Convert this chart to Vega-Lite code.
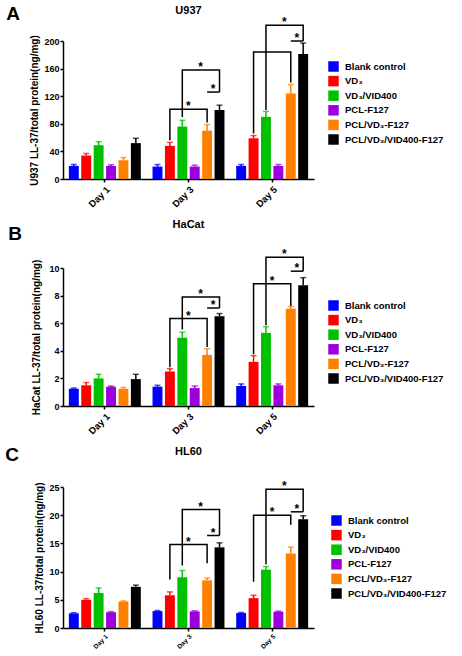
{
  "$schema": "https://vega.github.io/schema/vega-lite/v6.json",
  "padding": {"left": 5, "top": 5, "right": 5, "bottom": 5},
  "background": "white",
  "config": {
    "font": "Liberation Sans",
    "view": {"stroke": null},
    "axis": {"domainColor": "black", "domainWidth": 1.5, "tickColor": "black", "tickWidth": 1.5, "tickSize": 3, "labelPadding": 1, "labelOverlap": false, "labelColor": "black", "labelFontWeight": "bold", "titleFontWeight": "bold", "titleColor": "black", "grid": false, "labelFont": "Liberation Sans", "titleFont": "Liberation Sans"},
    "axisY": {"labelOverlap": false, "labelSeparation": 0},
    "axisQuantitative": {"labelOverlap": false},
    "legend": {"orient": "none", "legendX": 265, "legendY": 20, "title": null, "symbolType": "square", "symbolSize": 110, "symbolStrokeWidth": 0, "symbolOpacity": 1, "labelFontSize": 9.5, "labelFontWeight": "bold", "labelColor": "black", "labelFont": "Liberation Sans", "rowPadding": 3.6, "labelOffset": 6},
    "title": {"font": "Liberation Sans", "fontWeight": "bold", "color": "black"}
  },
  "datasets": {
    "a": [
      {"day": "Day 1", "grp": "Blank control", "mean": 19, "hi": 21},
      {"day": "Day 1", "grp": "VD₃", "mean": 34, "hi": 37},
      {"day": "Day 1", "grp": "VD₃/VID400", "mean": 49, "hi": 54},
      {"day": "Day 1", "grp": "PCL-F127", "mean": 19, "hi": 20.5},
      {"day": "Day 1", "grp": "PCL/VD₃-F127", "mean": 27, "hi": 31},
      {"day": "Day 1", "grp": "PCL/VD₃/VID400-F127", "mean": 52, "hi": 59},
      {"day": "Day 3", "grp": "Blank control", "mean": 18, "hi": 21},
      {"day": "Day 3", "grp": "VD₃", "mean": 48, "hi": 53},
      {"day": "Day 3", "grp": "VD₃/VID400", "mean": 76, "hi": 85},
      {"day": "Day 3", "grp": "PCL-F127", "mean": 18, "hi": 20},
      {"day": "Day 3", "grp": "PCL/VD₃-F127", "mean": 70, "hi": 79},
      {"day": "Day 3", "grp": "PCL/VD₃/VID400-F127", "mean": 100, "hi": 107},
      {"day": "Day 5", "grp": "Blank control", "mean": 19, "hi": 21},
      {"day": "Day 5", "grp": "VD₃", "mean": 59, "hi": 63},
      {"day": "Day 5", "grp": "VD₃/VID400", "mean": 90, "hi": 98},
      {"day": "Day 5", "grp": "PCL-F127", "mean": 19, "hi": 21},
      {"day": "Day 5", "grp": "PCL/VD₃-F127", "mean": 124, "hi": 137},
      {"day": "Day 5", "grp": "PCL/VD₃/VID400-F127", "mean": 181, "hi": 197}
    ],
    "ab": [
      {"br": 1, "o": 1, "day": "Day 3", "grp": "VD₃", "y": 56},
      {"br": 1, "o": 2, "day": "Day 3", "grp": "VD₃", "y": 101},
      {"br": 1, "o": 3, "day": "Day 3", "grp": "PCL/VD₃-F127", "y": 101},
      {"br": 1, "o": 4, "day": "Day 3", "grp": "PCL/VD₃-F127", "y": 82},
      {"br": 2, "o": 1, "day": "Day 3", "grp": "VD₃/VID400", "y": 90},
      {"br": 2, "o": 2, "day": "Day 3", "grp": "VD₃/VID400", "y": 158},
      {"br": 2, "o": 3, "day": "Day 3", "grp": "PCL/VD₃/VID400-F127", "y": 158},
      {"br": 2, "o": 4, "day": "Day 3", "grp": "PCL/VD₃/VID400-F127", "y": 126},
      {"br": 3, "o": 1, "day": "Day 3", "grp": "PCL/VD₃-F127", "y": 126},
      {"br": 3, "o": 2, "day": "Day 3", "grp": "PCL/VD₃/VID400-F127", "y": 126},
      {"br": 4, "o": 1, "day": "Day 5", "grp": "VD₃", "y": 66},
      {"br": 4, "o": 2, "day": "Day 5", "grp": "VD₃", "y": 184},
      {"br": 4, "o": 3, "day": "Day 5", "grp": "PCL/VD₃-F127", "y": 184},
      {"br": 4, "o": 4, "day": "Day 5", "grp": "PCL/VD₃-F127", "y": 140},
      {"br": 5, "o": 1, "day": "Day 5", "grp": "VD₃/VID400", "y": 100},
      {"br": 5, "o": 2, "day": "Day 5", "grp": "VD₃/VID400", "y": 223},
      {"br": 5, "o": 3, "day": "Day 5", "grp": "PCL/VD₃/VID400-F127", "y": 223},
      {"br": 5, "o": 4, "day": "Day 5", "grp": "PCL/VD₃/VID400-F127", "y": 200},
      {"br": 6, "o": 1, "day": "Day 5", "grp": "PCL/VD₃-F127", "y": 200},
      {"br": 6, "o": 2, "day": "Day 5", "grp": "PCL/VD₃/VID400-F127", "y": 200}
    ],
    "as": [
      {"day": "Day 3", "grp": "VD₃/VID400", "y": 101},
      {"day": "Day 3", "grp": "PCL-F127", "y": 158},
      {"day": "Day 3", "grp": "PCL/VD₃-F127", "y": 126},
      {"day": "Day 5", "grp": "PCL-F127", "y": 223},
      {"day": "Day 5", "grp": "PCL/VD₃-F127", "y": 200}
    ],
    "b": [
      {"day": "Day 1", "grp": "Blank control", "mean": 1.25, "hi": 1.3},
      {"day": "Day 1", "grp": "VD₃", "mean": 1.5, "hi": 1.7},
      {"day": "Day 1", "grp": "VD₃/VID400", "mean": 2.0, "hi": 2.3},
      {"day": "Day 1", "grp": "PCL-F127", "mean": 1.4, "hi": 1.45},
      {"day": "Day 1", "grp": "PCL/VD₃-F127", "mean": 1.25, "hi": 1.35},
      {"day": "Day 1", "grp": "PCL/VD₃/VID400-F127", "mean": 1.95, "hi": 2.3},
      {"day": "Day 3", "grp": "Blank control", "mean": 1.4, "hi": 1.5},
      {"day": "Day 3", "grp": "VD₃", "mean": 2.5, "hi": 2.7},
      {"day": "Day 3", "grp": "VD₃/VID400", "mean": 4.95, "hi": 5.35},
      {"day": "Day 3", "grp": "PCL-F127", "mean": 1.3, "hi": 1.45},
      {"day": "Day 3", "grp": "PCL/VD₃-F127", "mean": 3.7, "hi": 4.15},
      {"day": "Day 3", "grp": "PCL/VD₃/VID400-F127", "mean": 6.5, "hi": 6.7},
      {"day": "Day 5", "grp": "Blank control", "mean": 1.45, "hi": 1.6},
      {"day": "Day 5", "grp": "VD₃", "mean": 3.2, "hi": 3.65},
      {"day": "Day 5", "grp": "VD₃/VID400", "mean": 5.3, "hi": 5.75},
      {"day": "Day 5", "grp": "PCL-F127", "mean": 1.5, "hi": 1.6},
      {"day": "Day 5", "grp": "PCL/VD₃-F127", "mean": 7.05, "hi": 7.2},
      {"day": "Day 5", "grp": "PCL/VD₃/VID400-F127", "mean": 8.75, "hi": 9.3}
    ],
    "bb": [
      {"br": 1, "o": 1, "day": "Day 3", "grp": "VD₃", "y": 2.8},
      {"br": 1, "o": 2, "day": "Day 3", "grp": "VD₃", "y": 6.34},
      {"br": 1, "o": 3, "day": "Day 3", "grp": "PCL/VD₃-F127", "y": 6.34},
      {"br": 1, "o": 4, "day": "Day 3", "grp": "PCL/VD₃-F127", "y": 4.27},
      {"br": 2, "o": 1, "day": "Day 3", "grp": "VD₃/VID400", "y": 5.55},
      {"br": 2, "o": 2, "day": "Day 3", "grp": "VD₃/VID400", "y": 7.9},
      {"br": 2, "o": 3, "day": "Day 3", "grp": "PCL/VD₃/VID400-F127", "y": 7.9},
      {"br": 2, "o": 4, "day": "Day 3", "grp": "PCL/VD₃/VID400-F127", "y": 7.1},
      {"br": 3, "o": 1, "day": "Day 3", "grp": "PCL/VD₃-F127", "y": 7.1},
      {"br": 3, "o": 2, "day": "Day 3", "grp": "PCL/VD₃/VID400-F127", "y": 7.1},
      {"br": 4, "o": 1, "day": "Day 5", "grp": "VD₃", "y": 3.75},
      {"br": 4, "o": 2, "day": "Day 5", "grp": "VD₃", "y": 8.85},
      {"br": 4, "o": 3, "day": "Day 5", "grp": "PCL/VD₃-F127", "y": 8.85},
      {"br": 4, "o": 4, "day": "Day 5", "grp": "PCL/VD₃-F127", "y": 7.25},
      {"br": 5, "o": 1, "day": "Day 5", "grp": "VD₃/VID400", "y": 5.85},
      {"br": 5, "o": 2, "day": "Day 5", "grp": "VD₃/VID400", "y": 10.77},
      {"br": 5, "o": 3, "day": "Day 5", "grp": "PCL/VD₃/VID400-F127", "y": 10.77},
      {"br": 5, "o": 4, "day": "Day 5", "grp": "PCL/VD₃/VID400-F127", "y": 9.77},
      {"br": 6, "o": 1, "day": "Day 5", "grp": "PCL/VD₃-F127", "y": 9.77},
      {"br": 6, "o": 2, "day": "Day 5", "grp": "PCL/VD₃/VID400-F127", "y": 9.77}
    ],
    "bs": [
      {"day": "Day 3", "grp": "VD₃/VID400", "y": 6.34},
      {"day": "Day 3", "grp": "PCL-F127", "y": 7.9},
      {"day": "Day 3", "grp": "PCL/VD₃-F127", "y": 7.1},
      {"day": "Day 5", "grp": "VD₃/VID400", "y": 8.85},
      {"day": "Day 5", "grp": "PCL-F127", "y": 10.77},
      {"day": "Day 5", "grp": "PCL/VD₃-F127", "y": 9.77}
    ],
    "c": [
      {"day": "Day 1", "grp": "Blank control", "mean": 2.6, "hi": 2.7},
      {"day": "Day 1", "grp": "VD₃", "mean": 5.0, "hi": 5.2},
      {"day": "Day 1", "grp": "VD₃/VID400", "mean": 6.2, "hi": 7.1},
      {"day": "Day 1", "grp": "PCL-F127", "mean": 2.8, "hi": 2.9},
      {"day": "Day 1", "grp": "PCL/VD₃-F127", "mean": 4.7, "hi": 4.8},
      {"day": "Day 1", "grp": "PCL/VD₃/VID400-F127", "mean": 7.3, "hi": 7.6},
      {"day": "Day 3", "grp": "Blank control", "mean": 3.0, "hi": 3.1},
      {"day": "Day 3", "grp": "VD₃", "mean": 5.8, "hi": 6.4},
      {"day": "Day 3", "grp": "VD₃/VID400", "mean": 9.0, "hi": 10.2},
      {"day": "Day 3", "grp": "PCL-F127", "mean": 2.95, "hi": 3.05},
      {"day": "Day 3", "grp": "PCL/VD₃-F127", "mean": 8.45, "hi": 8.85},
      {"day": "Day 3", "grp": "PCL/VD₃/VID400-F127", "mean": 14.3, "hi": 15.1},
      {"day": "Day 5", "grp": "Blank control", "mean": 2.65, "hi": 2.75},
      {"day": "Day 5", "grp": "VD₃", "mean": 5.3, "hi": 5.8},
      {"day": "Day 5", "grp": "VD₃/VID400", "mean": 10.35, "hi": 10.9},
      {"day": "Day 5", "grp": "PCL-F127", "mean": 2.9, "hi": 3.0},
      {"day": "Day 5", "grp": "PCL/VD₃-F127", "mean": 13.2, "hi": 14.35},
      {"day": "Day 5", "grp": "PCL/VD₃/VID400-F127", "mean": 19.3, "hi": 19.9}
    ],
    "cb": [
      {"br": 1, "o": 1, "day": "Day 3", "grp": "VD₃", "y": 8.6},
      {"br": 1, "o": 2, "day": "Day 3", "grp": "VD₃", "y": 14.8},
      {"br": 1, "o": 3, "day": "Day 3", "grp": "PCL/VD₃-F127", "y": 14.8},
      {"br": 1, "o": 4, "day": "Day 3", "grp": "PCL/VD₃-F127", "y": 11.5},
      {"br": 2, "o": 1, "day": "Day 3", "grp": "VD₃/VID400", "y": 11.1},
      {"br": 2, "o": 2, "day": "Day 3", "grp": "VD₃/VID400", "y": 21.0},
      {"br": 2, "o": 3, "day": "Day 3", "grp": "PCL/VD₃/VID400-F127", "y": 21.0},
      {"br": 2, "o": 4, "day": "Day 3", "grp": "PCL/VD₃/VID400-F127", "y": 16.4},
      {"br": 3, "o": 1, "day": "Day 3", "grp": "PCL/VD₃-F127", "y": 16.4},
      {"br": 3, "o": 2, "day": "Day 3", "grp": "PCL/VD₃/VID400-F127", "y": 16.4},
      {"br": 4, "o": 1, "day": "Day 5", "grp": "VD₃", "y": 8.2},
      {"br": 4, "o": 2, "day": "Day 5", "grp": "VD₃", "y": 20.0},
      {"br": 4, "o": 3, "day": "Day 5", "grp": "PCL/VD₃-F127", "y": 20.0},
      {"br": 4, "o": 4, "day": "Day 5", "grp": "PCL/VD₃-F127", "y": 18.3},
      {"br": 5, "o": 1, "day": "Day 5", "grp": "VD₃/VID400", "y": 11.3},
      {"br": 5, "o": 2, "day": "Day 5", "grp": "VD₃/VID400", "y": 24.6},
      {"br": 5, "o": 3, "day": "Day 5", "grp": "PCL/VD₃/VID400-F127", "y": 24.6},
      {"br": 5, "o": 4, "day": "Day 5", "grp": "PCL/VD₃/VID400-F127", "y": 20.6},
      {"br": 6, "o": 1, "day": "Day 5", "grp": "PCL/VD₃-F127", "y": 20.6},
      {"br": 6, "o": 2, "day": "Day 5", "grp": "PCL/VD₃/VID400-F127", "y": 20.6}
    ],
    "cs": [
      {"day": "Day 3", "grp": "VD₃/VID400", "y": 14.8},
      {"day": "Day 3", "grp": "PCL-F127", "y": 21.0},
      {"day": "Day 3", "grp": "PCL/VD₃-F127", "y": 16.4},
      {"day": "Day 5", "grp": "VD₃/VID400", "y": 20.0},
      {"day": "Day 5", "grp": "PCL-F127", "y": 24.6},
      {"day": "Day 5", "grp": "PCL/VD₃-F127", "y": 20.6}
    ]
  },
  "spacing": 10,
  "align": "none",
  "resolve": {"scale": {"x": "independent", "y": "independent", "color": "independent", "xOffset": "independent"}, "legend": {"color": "independent"}},
  "vconcat": [
    {
      "title": {"text": "A", "orient": "left", "anchor": "end", "angle": 0, "frame": "bounds", "fontSize": 19, "offset": 10, "baseline": "top", "align": "left"},
      "vconcat": [{
        "title": {"text": "U937", "fontSize": 11, "offset": 0},
        "width": 251, "height": 138,
        "layer": [
          {"data": {"name": "a"}, "mark": {"type": "bar"},
           "encoding": {
             "x": {"field": "day", "type": "nominal", "scale": {"domain": ["Day 1", "Day 3", "Day 5"], "paddingInner": 0.14, "paddingOuter": 0.07}, "axis": {"title": null, "labelAngle": -45, "labelFontSize": 9.5, "labelPadding": 2}},
             "xOffset": {"field": "grp", "type": "nominal", "scale": {"domain": ["Blank control", "VD₃", "VD₃/VID400", "PCL-F127", "PCL/VD₃-F127", "PCL/VD₃/VID400-F127"], "paddingInner": 0.2}},
             "y": {"field": "mean", "type": "quantitative", "scale": {"domain": [0, 200], "nice": false}, "axis": {"values": [0, 40, 80, 120, 160, 200], "labelOverlap": false, "title": "U937 LL-37/total protein(ng/mg)", "titleFontSize": 10, "labelFontSize": 9, "titlePadding": 4}},
             "color": {"field": "grp", "type": "nominal", "scale": {"domain": ["Blank control", "VD₃", "VD₃/VID400", "PCL-F127", "PCL/VD₃-F127", "PCL/VD₃/VID400-F127"], "range": ["#0000FF", "#FF0000", "#00C000", "#9B00DC", "#FF8000", "#000000"]}, "legend": {"legendY": 20}}
           }},
          {"data": {"name": "a"}, "mark": {"type": "rule", "strokeWidth": 1.5},
           "encoding": {"x": {"field": "day", "type": "nominal"}, "xOffset": {"field": "grp", "type": "nominal"}, "y": {"field": "mean", "type": "quantitative", "axis": {"values": [0, 40, 80, 120, 160, 200], "labelOverlap": false}}, "y2": {"field": "hi"}, "color": {"field": "grp", "type": "nominal"}}},
          {"data": {"name": "a"}, "mark": {"type": "tick", "thickness": 1.5, "size": 6},
           "encoding": {"x": {"field": "day", "type": "nominal"}, "xOffset": {"field": "grp", "type": "nominal"}, "y": {"field": "hi", "type": "quantitative", "axis": {"values": [0, 40, 80, 120, 160, 200], "labelOverlap": false}}, "color": {"field": "grp", "type": "nominal"}}},
          {"data": {"name": "ab"}, "mark": {"type": "line", "color": "black", "strokeWidth": 1.5, "clip": false, "strokeJoin": "miter"},
           "encoding": {"x": {"field": "day", "type": "nominal"}, "xOffset": {"field": "grp", "type": "nominal"}, "y": {"field": "y", "type": "quantitative", "axis": {"values": [0, 40, 80, 120, 160, 200], "labelOverlap": false}}, "detail": {"field": "br", "type": "nominal"}, "order": {"field": "o", "type": "quantitative"}}},
          {"data": {"name": "as"}, "mark": {"type": "text", "text": "*", "fontSize": 12, "fontWeight": "bold", "color": "black", "dx": 6, "dy": -3, "baseline": "middle", "clip": false},
           "encoding": {"x": {"field": "day", "type": "nominal"}, "xOffset": {"field": "grp", "type": "nominal"}, "y": {"field": "y", "type": "quantitative", "axis": {"values": [0, 40, 80, 120, 160, 200], "labelOverlap": false}}}}
        ]
      }]
    },
    {
      "title": {"text": "B", "orient": "left", "anchor": "end", "angle": 0, "frame": "bounds", "fontSize": 19, "offset": 10, "dy": 6, "baseline": "top", "align": "left"},
      "vconcat": [{
        "title": {"text": "HaCat", "fontSize": 11, "offset": 18},
        "width": 251, "height": 138,
        "layer": [
          {"data": {"name": "b"}, "mark": {"type": "bar"},
           "encoding": {
             "x": {"field": "day", "type": "nominal", "scale": {"domain": ["Day 1", "Day 3", "Day 5"], "paddingInner": 0.14, "paddingOuter": 0.07}, "axis": {"title": null, "labelAngle": -45, "labelFontSize": 9.5, "labelPadding": 2}},
             "xOffset": {"field": "grp", "type": "nominal", "scale": {"domain": ["Blank control", "VD₃", "VD₃/VID400", "PCL-F127", "PCL/VD₃-F127", "PCL/VD₃/VID400-F127"], "paddingInner": 0.2}},
             "y": {"field": "mean", "type": "quantitative", "scale": {"domain": [0, 10], "nice": false}, "axis": {"values": [0, 2, 4, 6, 8, 10], "labelOverlap": false, "title": "HaCat LL-37/total  protein(ng/mg)", "titleFontSize": 10, "labelFontSize": 9, "titlePadding": 7}},
             "color": {"field": "grp", "type": "nominal", "scale": {"domain": ["Blank control", "VD₃", "VD₃/VID400", "PCL-F127", "PCL/VD₃-F127", "PCL/VD₃/VID400-F127"], "range": ["#0000FF", "#FF0000", "#00C000", "#9B00DC", "#FF8000", "#000000"]}, "legend": {"legendY": 32}}
           }},
          {"data": {"name": "b"}, "mark": {"type": "rule", "strokeWidth": 1.5},
           "encoding": {"x": {"field": "day", "type": "nominal"}, "xOffset": {"field": "grp", "type": "nominal"}, "y": {"field": "mean", "type": "quantitative", "axis": {"values": [0, 2, 4, 6, 8, 10], "labelOverlap": false}}, "y2": {"field": "hi"}, "color": {"field": "grp", "type": "nominal"}}},
          {"data": {"name": "b"}, "mark": {"type": "tick", "thickness": 1.5, "size": 6},
           "encoding": {"x": {"field": "day", "type": "nominal"}, "xOffset": {"field": "grp", "type": "nominal"}, "y": {"field": "hi", "type": "quantitative", "axis": {"values": [0, 2, 4, 6, 8, 10], "labelOverlap": false}}, "color": {"field": "grp", "type": "nominal"}}},
          {"data": {"name": "bb"}, "mark": {"type": "line", "color": "black", "strokeWidth": 1.5, "clip": false, "strokeJoin": "miter"},
           "encoding": {"x": {"field": "day", "type": "nominal"}, "xOffset": {"field": "grp", "type": "nominal"}, "y": {"field": "y", "type": "quantitative", "axis": {"values": [0, 2, 4, 6, 8, 10], "labelOverlap": false}}, "detail": {"field": "br", "type": "nominal"}, "order": {"field": "o", "type": "quantitative"}}},
          {"data": {"name": "bs"}, "mark": {"type": "text", "text": "*", "fontSize": 12, "fontWeight": "bold", "color": "black", "dx": 6, "dy": -3, "baseline": "middle", "clip": false},
           "encoding": {"x": {"field": "day", "type": "nominal"}, "xOffset": {"field": "grp", "type": "nominal"}, "y": {"field": "y", "type": "quantitative", "axis": {"values": [0, 2, 4, 6, 8, 10], "labelOverlap": false}}}}
        ]
      }]
    },
    {
      "title": {"text": "C", "orient": "left", "anchor": "end", "angle": 0, "frame": "bounds", "fontSize": 19, "offset": 16, "baseline": "top", "align": "left"},
      "vconcat": [{
        "title": {"text": "HL60", "fontSize": 11, "offset": 23},
        "width": 251, "height": 141,
        "layer": [
          {"data": {"name": "c"}, "mark": {"type": "bar"},
           "encoding": {
             "x": {"field": "day", "type": "nominal", "scale": {"domain": ["Day 1", "Day 3", "Day 5"], "paddingInner": 0.14, "paddingOuter": 0.07}, "axis": {"title": null, "labelAngle": -45, "labelFontSize": 6.5, "labelPadding": 2}},
             "xOffset": {"field": "grp", "type": "nominal", "scale": {"domain": ["Blank control", "VD₃", "VD₃/VID400", "PCL-F127", "PCL/VD₃-F127", "PCL/VD₃/VID400-F127"], "paddingInner": 0.2}},
             "y": {"field": "mean", "type": "quantitative", "scale": {"domain": [0, 25], "nice": false}, "axis": {"values": [0, 5, 10, 15, 20, 25], "labelOverlap": false, "title": "HL60 LL-37/total protein(ng/mg)", "titleFontSize": 10, "labelFontSize": 9, "titlePadding": 4}},
             "color": {"field": "grp", "type": "nominal", "scale": {"domain": ["Blank control", "VD₃", "VD₃/VID400", "PCL-F127", "PCL/VD₃-F127", "PCL/VD₃/VID400-F127"], "range": ["#0000FF", "#FF0000", "#00C000", "#9B00DC", "#FF8000", "#000000"]}, "legend": {"legendY": 28, "legendX": 268}}
           }},
          {"data": {"name": "c"}, "mark": {"type": "rule", "strokeWidth": 1.5},
           "encoding": {"x": {"field": "day", "type": "nominal"}, "xOffset": {"field": "grp", "type": "nominal"}, "y": {"field": "mean", "type": "quantitative", "axis": {"values": [0, 5, 10, 15, 20, 25], "labelOverlap": false}}, "y2": {"field": "hi"}, "color": {"field": "grp", "type": "nominal"}}},
          {"data": {"name": "c"}, "mark": {"type": "tick", "thickness": 1.5, "size": 6},
           "encoding": {"x": {"field": "day", "type": "nominal"}, "xOffset": {"field": "grp", "type": "nominal"}, "y": {"field": "hi", "type": "quantitative", "axis": {"values": [0, 5, 10, 15, 20, 25], "labelOverlap": false}}, "color": {"field": "grp", "type": "nominal"}}},
          {"data": {"name": "cb"}, "mark": {"type": "line", "color": "black", "strokeWidth": 1.5, "clip": false, "strokeJoin": "miter"},
           "encoding": {"x": {"field": "day", "type": "nominal"}, "xOffset": {"field": "grp", "type": "nominal"}, "y": {"field": "y", "type": "quantitative", "axis": {"values": [0, 5, 10, 15, 20, 25], "labelOverlap": false}}, "detail": {"field": "br", "type": "nominal"}, "order": {"field": "o", "type": "quantitative"}}},
          {"data": {"name": "cs"}, "mark": {"type": "text", "text": "*", "fontSize": 12, "fontWeight": "bold", "color": "black", "dx": 6, "dy": -3, "baseline": "middle", "clip": false},
           "encoding": {"x": {"field": "day", "type": "nominal"}, "xOffset": {"field": "grp", "type": "nominal"}, "y": {"field": "y", "type": "quantitative", "axis": {"values": [0, 5, 10, 15, 20, 25], "labelOverlap": false}}}}
        ]
      }]
    }
  ]
}
